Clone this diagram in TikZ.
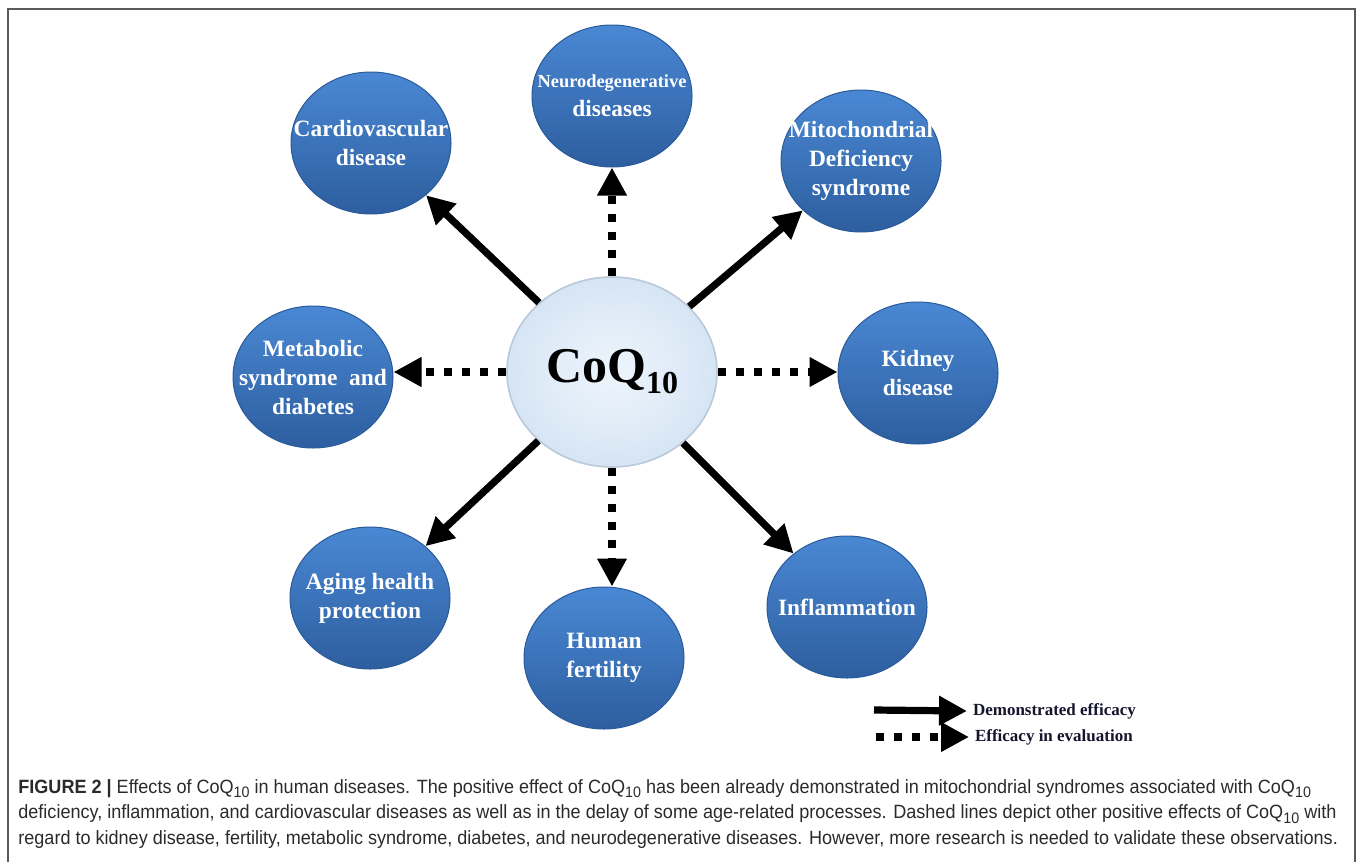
\documentclass[tikz,border=0pt]{standalone}
\usepackage{fontspec}
\setmainfont{Liberation Serif}
\newfontfamily\capfont[FakeStretch=0.94]{Liberation Sans}
\usepackage{tikz}
\usetikzlibrary{shapes.geometric,arrows.meta}
\definecolor{frame}{HTML}{5A5A5A}
\definecolor{bubtop}{HTML}{4A88D4}
\definecolor{bubbot}{HTML}{2D5E9F}
\definecolor{bubedge}{HTML}{2A5A98}
\definecolor{coqin}{HTML}{EEF5FC}
\definecolor{coqout}{HTML}{D6E5F4}
\definecolor{coqedge}{HTML}{B9C9DA}
\definecolor{legtext}{HTML}{15152E}
\definecolor{captext}{HTML}{2A2A2A}
\newcommand{\capsub}[1]{\raisebox{-0.45ex}{\fontsize{7.6}{7.6}\selectfont #1}}
\tikzset{
  bubble/.style={ellipse, minimum width=80pt, minimum height=71pt, inner sep=0pt,
    top color=bubtop, bottom color=bubbot, draw=bubedge, line width=0.5pt},
  bubtext/.style={text=white, font=\bfseries\fontsize{11.7}{14.5}\selectfont, align=center, inner sep=0pt},
  core/.style={ellipse, minimum width=105pt, minimum height=95pt, inner sep=0pt,
    inner color=coqin, outer color=coqout, draw=coqedge, line width=0.8pt},
  solidarrow/.style={draw=black, line width=3.6pt, -{Triangle[length=14pt,width=14pt]}},
  dottedarrow/.style={draw=black, line width=4pt, dash pattern=on 4pt off 5pt, -{Triangle[length=14pt,width=14pt]}},
  lab/.style={text=legtext, font=\bfseries\fontsize{8.5}{10}\selectfont, anchor=west, inner sep=0pt, outer sep=3pt},
  capt/.style={text=captext, font=\capfont\fontsize{9.6}{12.75}\selectfont, align=left, inner sep=0pt, anchor=north west},
}

\begin{document}
\begin{tikzpicture}[x=0.5pt,y=-0.5pt]
\useasboundingbox (0,0) rectangle (1358,862);
\draw[frame, line width=1pt] (8,862) |- (1355,9) -- (1355,862);

% centre
\node[core] (coq) at (612,372) {\bfseries\fontsize{25}{25}\selectfont CoQ\raisebox{-5.5pt}{\fontsize{16}{16}\selectfont 10}};

% diseases
\node[bubble, label={[bubtext]center:Cardiovascular\\disease}] (cardio) at (371,143) {};
\node[bubble, label={[bubtext]center:{\fontsize{9.2}{11}\selectfont Neurodegenerative}\\diseases}] (neuro) at (612,96) {};
\node[bubble, label={[bubtext]center:Mitochondrial\\Deficiency\\syndrome}] (mito) at (861,161) {};
\node[bubble, label={[bubtext]center:Kidney\\disease}] (kidney) at (918,373) {};
\node[bubble, label={[bubtext]center:Inflammation}] (infl) at (847,607) {};
\node[bubble, label={[bubtext]center:Human\\fertility}] (fert) at (604,658) {};
\node[bubble, label={[bubtext]center:Aging health\\protection}] (aging) at (370,598) {};
\node[bubble, label={[bubtext]center:Metabolic\\syndrome\ \ and\\diabetes}] (metab) at (313,377) {};

% connectors
\draw[solidarrow] (coq) -- (cardio);
\draw[dottedarrow] (coq.north) -- (neuro.south);
\draw[solidarrow] (coq) -- (mito);
\draw[dottedarrow] (coq.east) -- (coq.east -| kidney.west);
\draw[solidarrow] (coq) -- (infl);
\draw[dottedarrow] (coq.south) -- (coq.south |- fert.north);
\draw[solidarrow] (coq) -- (aging);
\draw[dottedarrow] (coq.west) -- (coq.west -| metab.east);

% legend
\coordinate (ds) at (874,710);
\node[lab] (dt) at (967,711) {Demonstrated efficacy};
\draw[solidarrow] (ds) -- (dt.west);
\coordinate (es) at (876,737);
\node[lab] (et) at (969,737) {Efficacy in evaluation};
\draw[dottedarrow] (es) -- (et.west);

% caption
\node[capt] (cap) at (18,779) {{\bfseries FIGURE 2 |} Effects of CoQ\capsub{10} in human diseases. The positive effect of CoQ\capsub{10} has been already demonstrated in mitochondrial syndromes associated with CoQ\capsub{10}\\
deficiency, inflammation, and cardiovascular diseases as well as in the delay of some age-related processes. Dashed lines depict other positive effects of CoQ\capsub{10} with\\
regard to kidney disease, fertility, metabolic syndrome, diabetes, and neurodegenerative diseases. However, more research is needed to validate these observations.};
\end{tikzpicture}
\end{document}
